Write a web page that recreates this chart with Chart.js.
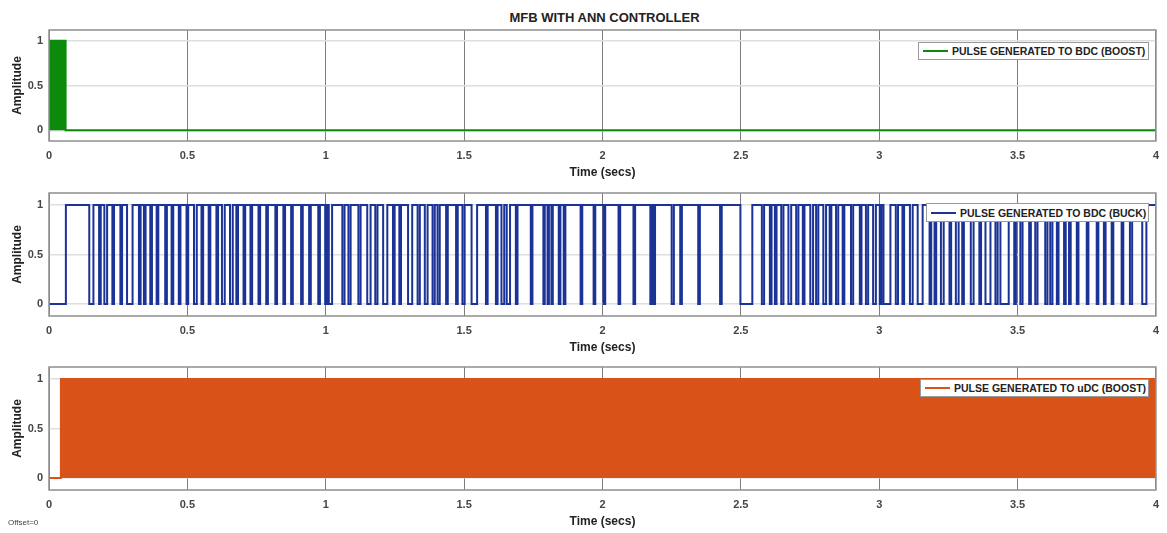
<!DOCTYPE html>
<html>
<head>
<meta charset="utf-8">
<title>MFB WITH ANN CONTROLLER</title>
<script src="https://cdn.jsdelivr.net/npm/chart.js@4.4.1/dist/chart.umd.min.js"></script>
<style>
  body { margin: 0; background: #fff; width: 1167px; height: 533px; position: relative; overflow: hidden;
         font-family: 'Liberation Sans', Arial, sans-serif; }
  canvas { position: absolute; left: 0; }
  .title { position: absolute; top: 10px; left: 49px; width: 1111px; text-align: center;
           font-weight: bold; font-size: 13px; color: #222; }
  .legend { position: absolute; background: #fff; border: 1px solid #9a9a9a; box-sizing: border-box;
            display: flex; align-items: center; padding: 0 4px; white-space: nowrap;
            font-weight: bold; font-size: 10.5px; color: #222; }
  .legend i { display: inline-block; width: 25px; height: 2px; margin-right: 4px; flex: none; }
  .offset { position: absolute; left: 8px; top: 518px; font-size: 8px; color: #444; }
</style>
</head>
<body>
<div class="title">MFB WITH ANN CONTROLLER</div>
<canvas id="boost" width="1167" height="183" style="top:0px"></canvas>
<canvas id="buck" width="1167" height="185" style="top:173px"></canvas>
<canvas id="udc" width="1167" height="185" style="top:347px"></canvas>
<div class="legend" style="left:918px; top:42px; width:231px; height:18px"><i style="background:#0b8a0b"></i>PULSE GENERATED TO BDC (BOOST)</div>
<div class="legend" style="left:926px; top:203px; width:223px; height:19px"><i style="background:#1b3396"></i>PULSE GENERATED TO BDC (BUCK)</div>
<div class="legend" style="left:920px; top:379px; width:229px; height:18px"><i style="background:#d95319"></i>PULSE GENERATED TO uDC (BOOST)</div>
<div class="offset">Offset=0</div>
<script>
// axis ticks
const timeTicks = [0, 0.5, 1, 1.5, 2, 2.5, 3, 3.5, 4];
const ampTicks = [0, 0.5, 1];

// BDC boost pulse: switching burst at start (drawn as its envelope), then off
const boostBurstStart = 0;
const boostBurstEnd = 0.06;

// BDC buck pulse: goes high at buckRise, then short drops to 0 (centre time, length in s)
const buckRise = 0.061;
const buckDipAt = [
  0.153, 0.184, 0.205, 0.232, 0.261, 0.292, 0.328, 0.346, 0.369, 0.392, 0.423, 0.446,
  0.472, 0.500, 0.529, 0.554, 0.580, 0.608, 0.630, 0.659, 0.680, 0.706, 0.731, 0.760,
  0.788, 0.821, 0.850, 0.878, 0.914, 0.943, 0.976, 1.001, 1.017, 1.064, 1.086, 1.122,
  1.156, 1.183, 1.215, 1.246, 1.269, 1.305, 1.336, 1.363, 1.390, 1.408, 1.438, 1.474,
  1.498, 1.537, 1.582, 1.618, 1.640, 1.660, 1.690, 1.744, 1.789, 1.804, 1.818, 1.845,
  1.863, 1.924, 1.971, 2.007, 2.061, 2.115, 2.176, 2.187, 2.254, 2.284, 2.349, 2.428,
  2.520, 2.580, 2.608, 2.626, 2.650, 2.677, 2.704, 2.727, 2.756, 2.776, 2.803, 2.824,
  2.848, 2.871, 2.902, 2.933, 2.956, 2.983, 3.005, 3.028, 3.064, 3.087, 3.116, 3.148,
  3.185, 3.203, 3.228, 3.257, 3.282, 3.303, 3.336, 3.365, 3.393, 3.424, 3.453, 3.491,
  3.514, 3.545, 3.568, 3.604, 3.622, 3.645, 3.671, 3.689, 3.717, 3.753, 3.789, 3.815,
  3.843, 3.879, 3.910, 3.958
];
const buckDipLen = [
  0.015, 0.006, 0.010, 0.006, 0.006, 0.020, 0.006, 0.006, 0.006, 0.006, 0.006, 0.006,
  0.006, 0.006, 0.010, 0.006, 0.006, 0.006, 0.010, 0.010, 0.006, 0.006, 0.006, 0.006,
  0.006, 0.006, 0.006, 0.006, 0.006, 0.006, 0.006, 0.006, 0.012, 0.008, 0.008, 0.008,
  0.012, 0.008, 0.015, 0.006, 0.006, 0.015, 0.008, 0.010, 0.008, 0.008, 0.006, 0.006,
  0.008, 0.020, 0.006, 0.006, 0.010, 0.012, 0.006, 0.006, 0.005, 0.005, 0.005, 0.006,
  0.006, 0.006, 0.006, 0.006, 0.006, 0.006, 0.006, 0.006, 0.008, 0.006, 0.006, 0.006,
  0.043, 0.008, 0.006, 0.006, 0.008, 0.010, 0.008, 0.006, 0.010, 0.008, 0.010, 0.006,
  0.008, 0.006, 0.008, 0.006, 0.008, 0.010, 0.006, 0.025, 0.008, 0.006, 0.010, 0.018,
  0.006, 0.006, 0.010, 0.006, 0.010, 0.006, 0.010, 0.006, 0.018, 0.008, 0.030, 0.006,
  0.008, 0.006, 0.008, 0.008, 0.008, 0.006, 0.006, 0.006, 0.006, 0.006, 0.006, 0.006,
  0.006, 0.006, 0.008, 0.015
];

// uDC boost pulse: first edge, then dense switching (drawn as its envelope) to the end
const udcFirstRise = 0.043;
const udcFirstFall = 0.047;
const udcBurstStart = 0.05;
const udcBurstEnd = 4;

const tEnd = 4;

// ---- build point lists for the library ----
const boostPoints = [
  {x: boostBurstStart, y: 0}, {x: boostBurstStart, y: 1}, {x: boostBurstEnd, y: 1},
  {x: boostBurstEnd, y: 0}, {x: tEnd, y: 0}
];

const buckPoints = [{x: 0, y: 0}, {x: buckRise, y: 0}, {x: buckRise, y: 1}];
buckDipAt.forEach((t, i) => {
  const s = t - buckDipLen[i] / 2, e = t + buckDipLen[i] / 2;
  buckPoints.push({x: s, y: 1}, {x: s, y: 0}, {x: e, y: 0}, {x: e, y: 1});
});
buckPoints.push({x: tEnd, y: 1});

const udcPoints = [
  {x: 0, y: 0}, {x: udcFirstRise, y: 0}, {x: udcFirstRise, y: 1}, {x: udcFirstFall, y: 1},
  {x: udcFirstFall, y: 0}, {x: udcBurstStart, y: 0}, {x: udcBurstStart, y: 1},
  {x: udcBurstEnd, y: 1}, {x: udcBurstEnd, y: 0}
];

// box round the plot area
const framePlugin = {
  id: 'frame',
  afterDatasetsDraw(chart) {
    const {ctx, chartArea: a} = chart;
    ctx.save();
    ctx.strokeStyle = '#8f8f8f';
    ctx.lineWidth = 1.5;
    ctx.strokeRect(a.left, a.top, a.right - a.left, a.bottom - a.top);
    ctx.restore();
  }
};

const tickFont = { family: "'Liberation Sans', Arial, sans-serif", size: 11, weight: 'bold' };
const titleFont = { family: "'Liberation Sans', Arial, sans-serif", size: 12, weight: 'bold' };

function makePanel(id, points, color, filled, padTop) {
  new Chart(document.getElementById(id).getContext('2d'), {
    type: 'line',
    data: {
      datasets: [{
        data: points,
        borderColor: color,
        backgroundColor: color,
        borderWidth: 2,
        pointRadius: 0,
        tension: 0,
        fill: filled ? 'origin' : false
      }]
    },
    options: {
      responsive: false,
      animation: false,
      parsing: false,
      layout: { padding: { top: padTop, right: 7, left: 0, bottom: 0 } },
      plugins: { legend: { display: false }, tooltip: { enabled: false } },
      scales: {
        x: {
          type: 'linear', min: 0, max: tEnd,
          afterBuildTicks: s => { s.ticks = timeTicks.map(v => ({value: v})); },
          afterFit: s => { s.height = 42; },
          ticks: { font: tickFont, color: '#454545', padding: 8, maxRotation: 0,
                   callback: v => String(v) },
          grid: { color: '#7d7d7d', lineWidth: 1, drawTicks: false },
          border: { display: false },
          title: { display: true, text: 'Time (secs)', font: titleFont, color: '#222',
                   padding: { top: 0, bottom: 3 } }
        },
        y: {
          min: -0.12, max: 1.12,
          afterBuildTicks: s => { s.ticks = ampTicks.map(v => ({value: v})); },
          afterFit: s => { s.width = 49; },
          ticks: { font: tickFont, color: '#454545', padding: 6, callback: v => String(v) },
          grid: { color: '#dedede', lineWidth: 1.5, drawTicks: false },
          border: { display: false },
          title: { display: true, text: 'Amplitude', font: titleFont, color: '#222',
                   padding: { top: 10, bottom: 0 } }
        }
      }
    },
    plugins: [framePlugin]
  });
}

makePanel('boost', boostPoints, '#0b8a0b', true, 30);
makePanel('buck', buckPoints, '#1b3396', false, 20);
makePanel('udc', udcPoints, '#d95319', true, 20);
</script>
</body>
</html>
